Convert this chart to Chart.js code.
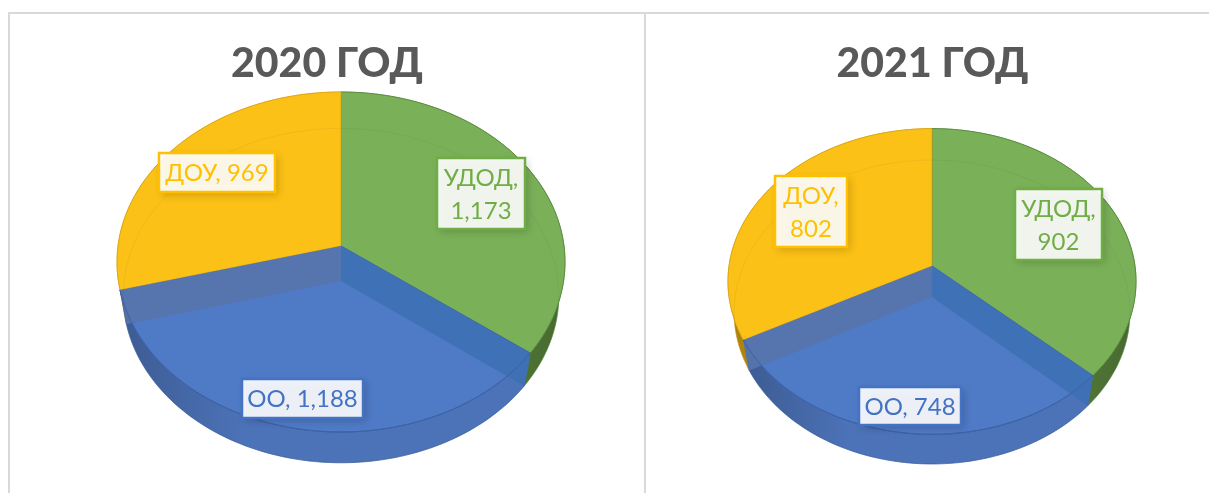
<!DOCTYPE html>
<html>
<head>
<meta charset="utf-8">
<script src="https://cdn.jsdelivr.net/npm/chart.js@4"></script>
<style>
    html, body { margin: 0; padding: 0; background: #fff; overflow: hidden; }
    body { width: 1209px; height: 493px; position: relative; }
    .frame-top { position: absolute; left: 8px; top: 12px; width: 1201px; height: 2px; background: #d9d9d9; }
    .frame-left { position: absolute; left: 8px; top: 12px; width: 2px; height: 481px; background: #d9d9d9; }
    .frame-mid { position: absolute; left: 644px; top: 12px; width: 2px; height: 481px; background: #d9d9d9; }
    canvas { position: absolute; top: 14px; }
    #chart_1 { left: 10px; }
    #chart_2 { left: 646px; }
</style>
</head>
<body>
<div class="frame-top"></div>
<div class="frame-left"></div>
<div class="frame-mid"></div>
<canvas id="chart_1" width="634" height="479"></canvas>
<canvas id="chart_2" width="573" height="479"></canvas>
<script>
var categories = ["УДОД", "ОО", "ДОУ"]
var values_2020 = [1173, 1188, 969]
var values_2021 = [902, 748, 802]
// label breaks onto a second line after the comma
var wrap_2020 = [true, false, false]
var wrap_2021 = [true, false, true]

var faceColors = ["#7ab158", "#4f7ac6", "#fcc116"]
var edgeColors = ["rgba(85,135,60,0.8)", "rgba(60,98,170,0.9)", "rgba(216,165,20,0.8)"]
var textColors = ["#70ad47", "#4472c4", "#ffc000"]
var FONT = "Lato, 'Open Sans', sans-serif"

// chart.js angle -> point on a tilted disc
function project(g, angle) {
    var u = Math.cos(angle)
    var v = Math.sin(angle)
    var d = 1 - g.p * v
    return { x: g.cx + g.a * u / d, y: g.cy + g.b * v / d }
}

function arcPoints(g, start, end) {
    var pts = []
    for (var i = 0; i <= 80; i++) {
        pts.push(project(g, start + (end - start) * i / 80))
    }
    return pts
}

function tracePts(ctx, pts, moveFirst) {
    pts.forEach(function (pt, i) {
        if (i == 0 && moveFirst) ctx.moveTo(pt.x, pt.y)
        else ctx.lineTo(pt.x, pt.y)
    })
}

// wall shading runs left to right over each slice
function wallGradient(ctx, i, x0, x1) {
    var grad = ctx.createLinearGradient(x0, 0, x1, 0)
    if (i == 0) {
        grad.addColorStop(0, "#6b9f4b")
        grad.addColorStop(1, "#47682f")
    } else if (i == 1) {
        grad.addColorStop(0, "#3d5b92")
        grad.addColorStop(0.3, "#4c72b8")
        grad.addColorStop(1, "#4c72b8")
    } else {
        grad.addColorStop(0, "#a9820f")
        grad.addColorStop(1, "#d6a312")
    }
    return grad
}

var pie3d = {
    id: "pie3d",
    beforeDatasetsDraw: function (chart, args, opts) {
        var ctx = chart.ctx
        var arcs = chart.getDatasetMeta(0).data
        var top = opts.top
        var bottom = opts.bottom

        ctx.save()
        ctx.lineJoin = "round"

        // outer walls, the front slice last
        ;[2, 0, 1].forEach(function (i) {
            var el = arcs[i]
            var t = arcPoints(top, el.startAngle, el.endAngle)
            var b = arcPoints(bottom, el.startAngle, el.endAngle).reverse()
            var xs = t.concat(b).map(function (pt) { return pt.x })
            ctx.beginPath()
            tracePts(ctx, t, true)
            tracePts(ctx, b, false)
            ctx.closePath()
            ctx.fillStyle = wallGradient(ctx, i, Math.min.apply(null, xs), Math.max.apply(null, xs))
            ctx.fill()
            ctx.strokeStyle = edgeColors[i]
            ctx.lineWidth = 0.8
            ctx.stroke()
        })

        // top faces
        arcs.forEach(function (el, i) {
            ctx.beginPath()
            ctx.moveTo(top.cx, top.cy)
            tracePts(ctx, arcPoints(top, el.startAngle, el.endAngle), false)
            ctx.closePath()
            ctx.fillStyle = faceColors[i]
            ctx.fill()
            ctx.strokeStyle = edgeColors[i]
            ctx.lineWidth = 1
            ctx.stroke()
        })

        // cut faces of the front slice showing through it
        var front = arcs[1]
        var strips = [[front.startAngle, "rgba(62,112,180,0.92)"], [front.endAngle, "rgba(86,116,172,0.95)"]]
        strips.forEach(function (s) {
            var p1 = project(top, s[0])
            var p2 = project(bottom, s[0])
            ctx.beginPath()
            ctx.moveTo(top.cx, top.cy)
            ctx.lineTo(p1.x, p1.y)
            ctx.lineTo(p2.x, p2.y)
            ctx.lineTo(bottom.cx, bottom.cy)
            ctx.closePath()
            ctx.fillStyle = s[1]
            ctx.fill()
        })

        // front rim of the top face
        ctx.beginPath()
        tracePts(ctx, arcPoints(top, front.startAngle, front.endAngle), true)
        ctx.strokeStyle = "#3c62a6"
        ctx.lineWidth = 1
        ctx.stroke()

        // base ellipse seen through the top
        ctx.beginPath()
        tracePts(ctx, arcPoints(bottom, 0, Math.PI * 2), true)
        ctx.closePath()
        ctx.strokeStyle = "rgba(60,70,40,0.07)"
        ctx.lineWidth = 1
        ctx.stroke()

        ctx.restore()
        return false
    },
    afterDraw: function (chart, args, opts) {
        var ctx = chart.ctx
        var values = chart.data.datasets[0].data
        var cats = chart.data.labels
        ctx.save()
        ctx.font = opts.fontSize + "px " + FONT
        ctx.textAlign = "center"
        ctx.textBaseline = "middle"
        opts.boxes.forEach(function (box, i) {
            var value = values[i].toLocaleString("en-US")
            var lines = opts.wrap[i] ? [cats[i] + ",", value] : [cats[i] + ", " + value]
            ctx.save()
            ctx.shadowColor = "rgba(0,0,0,0.2)"
            ctx.shadowBlur = 8
            ctx.shadowOffsetX = 3
            ctx.shadowOffsetY = 3
            ctx.fillStyle = "rgba(255,255,255,0.9)"
            ctx.fillRect(box.x, box.y, box.w, box.h)
            ctx.restore()
            ctx.strokeStyle = textColors[i]
            ctx.lineWidth = 2.5
            ctx.strokeRect(box.x, box.y, box.w, box.h)
            ctx.fillStyle = textColors[i]
            var cx = box.x + box.w / 2
            var cy = box.y + box.h / 2 + 1
            lines.forEach(function (line, n) {
                ctx.fillText(line, cx, cy + (n - (lines.length - 1) / 2) * opts.lineHeight)
            })
        })
        ctx.restore()
    }
}

function makeChart(id, year, values, pieOpts) {
    return new Chart(document.getElementById(id), {
        type: "pie",
        data: {
            labels: categories,
            datasets: [{ data: values, backgroundColor: faceColors, borderWidth: 0 }]
        },
        plugins: [pie3d],
        options: {
            responsive: false,
            animation: false,
            plugins: {
                legend: { display: false },
                tooltip: { enabled: false },
                title: {
                    display: true,
                    text: year + " ГОД",
                    color: "#595959",
                    font: { family: FONT, size: 41, weight: "900" },
                    padding: { top: 25, bottom: 0 }
                },
                pie3d: pieOpts
            }
        }
    })
}

var CHART_1 = makeChart("chart_1", "2020", values_2020, {
    top: { cx: 331, cy: 232, a: 223, b: 168.5, p: 0.0941 },
    bottom: { cx: 331, cy: 267, a: 217, b: 166, p: 0.0868 },
    wrap: wrap_2020,
    fontSize: 24,
    lineHeight: 33,
    boxes: [
        { x: 427, y: 144, w: 88, h: 71 },
        { x: 232, y: 365, w: 121, h: 39 },
        { x: 149, y: 139, w: 116, h: 39 }
    ]
})

var CHART_2 = makeChart("chart_2", "2021", values_2021, {
    top: { cx: 286, cy: 252, a: 203, b: 151.3, p: 0.101 },
    bottom: { cx: 286, cy: 283, a: 197, b: 150.5, p: 0.0987 },
    wrap: wrap_2021,
    fontSize: 24,
    lineHeight: 33,
    boxes: [
        { x: 369, y: 175, w: 87, h: 71 },
        { x: 213, y: 373, w: 102, h: 38 },
        { x: 129, y: 162, w: 72, h: 71 }
    ]
})
</script>
</body>
</html>
